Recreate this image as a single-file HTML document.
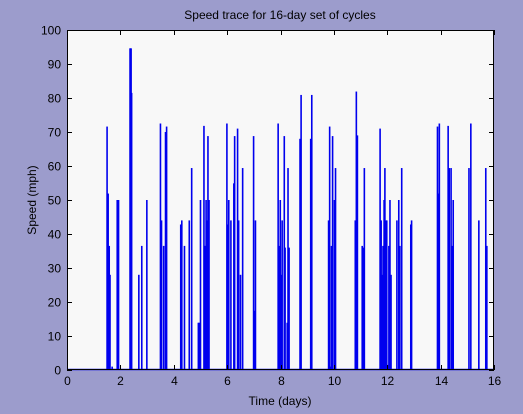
<!DOCTYPE html>
<html><head><meta charset="utf-8"><style>
body{margin:0;background:#9c9ccc;}
svg{display:block;font-family:"Liberation Sans",sans-serif;}
</style></head><body>
<svg id="c" width="523" height="414">
<rect width="523" height="414" fill="#9c9ccc"/>
<rect x="67" y="30" width="427" height="340" fill="#f8f8f8"/>
<text x="280" y="19" font-size="12" text-anchor="middle" fill="#000">Speed trace for 16-day set of cycles</text>
<text x="280" y="405" font-size="12" text-anchor="middle" fill="#000">Time (days)</text>
<text x="36" y="200" font-size="12" text-anchor="middle" fill="#000" transform="rotate(-90 36 200)">Speed (mph)</text>
<g id="bars"></g>
<g id="axes"></g>
</svg>
<script>
const times=[1.50,1.54,1.58,1.61,1.69,1.88,1.91,1.93,2.36,2.38,2.40,2.42,2.69,2.80,2.99,3.50,3.54,3.62,3.69,3.73,4.26,4.30,4.40,4.58,4.67,4.92,4.95,4.99,5.00,5.13,5.15,5.18,5.21,5.25,5.28,5.32,5.99,6.02,6.06,6.14,6.25,6.28,6.39,6.43,6.50,6.58,6.99,7.02,7.06,
7.91,7.95,7.99,8.02,8.06,8.14,8.17,8.25,8.28,8.32,8.73,8.77,9.13,9.17,9.80,9.84,9.88,9.91,9.95,10.02,10.06,10.80,10.84,10.88,11.06,11.10,11.14,11.73,11.77,11.80,11.84,11.88,11.91,11.95,11.98,12.02,12.06,12.10,12.14,12.36,12.43,12.47,12.54,12.88,12.91,13.88,13.92,13.95,14.28,14.32,14.39,14.43,14.47,15.06,15.13,15.43,15.69,15.73];
const speeds=[71.6,51.9,36.5,28,1,50,50,50,94.6,94.6,94.6,81.5,28,36.5,50,72.5,44,36.5,70,71.6,42.8,44,36.5,44,59.4,13.9,13.9,13.9,50,71.8,36.5,36.5,50,44,68.8,50,72.5,42.8,50,44,54.9,68.8,71,44,28,59.4,68.8,17.4,44,
72.5,36.5,50,28,44,68.8,36,13.9,59.4,36,68,80.9,68,80.9,44,71.6,1,36.5,68.8,50,59.4,44,81.9,69,36.5,36,59.4,71,44,28,36.5,50,59.4,44,44,1.5,36.5,50,28,44,50,36.5,59.4,42.8,44,71.6,51.9,72.5,71.8,59.4,59.4,36.5,50,59.4,72.5,44,59.4,36.5];
const xTicks=[0,2,4,6,8,10,12,14,16];
const yTicks=[0,10,20,30,40,50,60,70,80,90,100];
const X0=67,X1=494,Y0=370,Y1=30;
const sx=v=>X0+(v-0)/(16-0)*(X1-X0);
const sy=v=>Y0-(v-0)/(100-0)*(Y0-Y1);
const NS="http://www.w3.org/2000/svg";
const bars=document.getElementById('bars'),axes=document.getElementById('axes');
function mk(tag,attrs,parent){const e=document.createElementNS(NS,tag);for(const k in attrs)e.setAttribute(k,attrs[k]);parent.appendChild(e);return e;}
times.forEach((t,i)=>{
  const r=mk('rect',{x:sx(t)-0.75,y:sy(speeds[i]),width:1.6,height:Y0-sy(speeds[i]),fill:'#0000ee'},bars);
  
  
});
const base=mk('line',{x1:X0,x2:X1,y1:Y0-0.5,y2:Y0-0.5,stroke:'#0000ee','stroke-width':1.5},bars);


const box=mk('rect',{x:X0+0.5,y:Y1+0.5,width:X1-X0-1,height:Y0-Y1-1,fill:'none',stroke:'#000','stroke-width':1},axes);


xTicks.forEach(v=>{
  const x=Math.round(sx(v))+0.5;
  mk('line',{x1:x,x2:x,y1:Y0,y2:Y0-5,stroke:'#000'},axes);
  mk('line',{x1:x,x2:x,y1:Y1,y2:Y1+5,stroke:'#000'},axes);
  const t=mk('text',{x:x,y:Y0+15,'font-size':12,'text-anchor':'middle',fill:'#000'},axes);
  t.textContent=v;
  
  
});
yTicks.forEach(v=>{
  const y=Math.round(sy(v))+0.5;
  mk('line',{x1:X0,x2:X0+5,y1:y,y2:y,stroke:'#000'},axes);
  mk('line',{x1:X1,x2:X1-5,y1:y,y2:y,stroke:'#000'},axes);
  const t=mk('text',{x:X0-6,y:y+4,'font-size':12,'text-anchor':'end',fill:'#000'},axes);
  t.textContent=v;
  
  
});
</script>
</body></html>
